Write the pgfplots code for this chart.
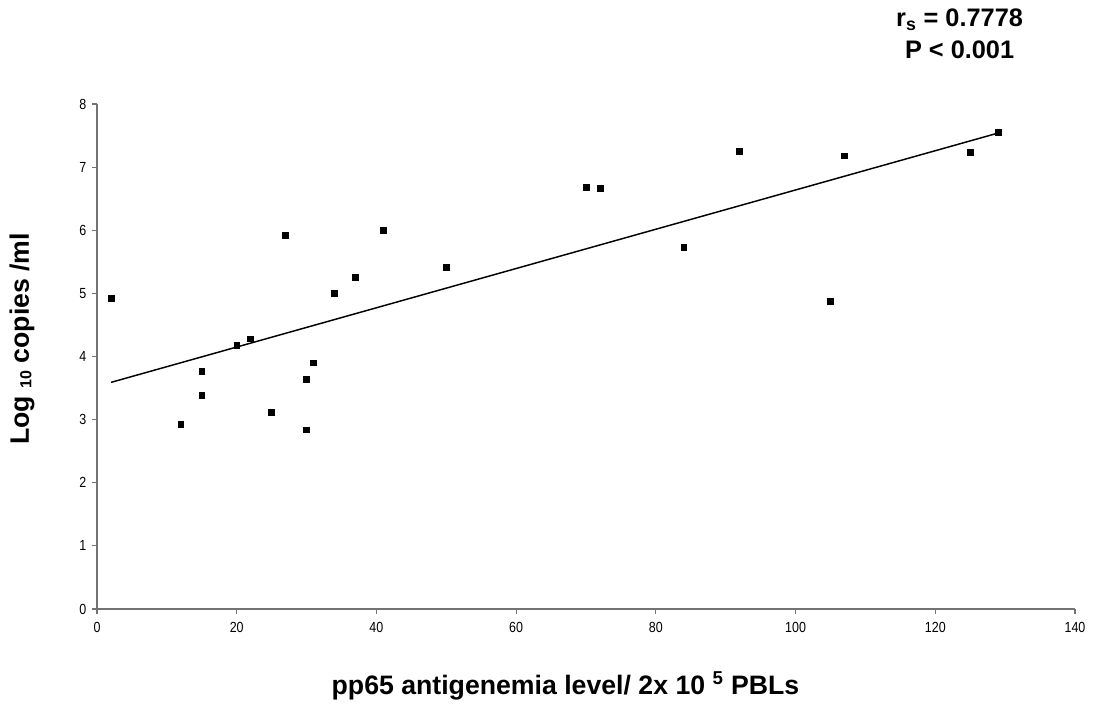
\documentclass[border=0pt]{standalone}
\usepackage{fontspec}
\setmainfont{Liberation Sans}
\usepackage{pgfplots}
\pgfplotsset{compat=1.18}
\begin{document}
\begin{tikzpicture}
\path[use as bounding box] (0,0) rectangle (819.75pt,538.5pt);
\begin{axis}[
  at={(72.75pt,81.75pt)}, anchor=south west,
  scale only axis,
  width=733.5pt, height=378.75pt,
  xmin=0, xmax=140, ymin=0, ymax=8,
  xtick={0,20,...,140}, ytick={0,1,...,8},
  axis lines*=left,
  axis line style={-, draw=black!55, line width=0.8pt},
  tick style={draw=black!55, line width=0.8pt},
  tick align=outside,
  major tick length=3.5pt,
  /pgf/number format/assume math mode=true,
  xticklabel={\scalebox{0.85}[1]{\fontsize{11}{13}\selectfont\pgfmathprintnumber{\tick}}},
  yticklabel={\scalebox{0.85}[1]{\fontsize{11}{13}\selectfont\pgfmathprintnumber{\tick}}},
  xticklabel style={yshift=-3pt},
  yticklabel style={xshift=-1pt},
  title={r\textsubscript{s} = 0.7778\\P < 0.001},
  title style={font=\bfseries\fontsize{19}{23.5}\selectfont, align=center, at={(axis description cs:0.882,1.123)}, anchor=center},
  xlabel={pp65 antigenemia level/ 2x 10 \textsuperscript{5} PBLs},
  xlabel style={font=\bfseries\fontsize{20}{24}\selectfont, at={(axis description cs:0.479,-0.153)}, anchor=center},
  ylabel={Log {\fontsize{12}{13}\selectfont\raisebox{-0.3ex}{10}} copies /ml},
  ylabel style={font=\bfseries\fontsize{20}{24}\selectfont, at={(axis description cs:-0.0767,0.535)}, anchor=center, rotate=0},
  clip=false,
]
\addplot[only marks, mark=square*, mark size=2.2pt, black] table {
x y
2 4.92
12 2.93
15 3.76
15 3.39
20 4.18
22 4.28
25 3.11
27 5.92
30 3.64
30 2.84
31 3.90
34 5.00
37 5.25
41 6.00
50 5.42
70 6.68
72 6.66
84 5.73
92 7.25
105 4.87
107 7.18
125 7.24
129 7.55
};
\addplot[black, line width=1.1pt] coordinates {(2,3.59) (129,7.54)};
\end{axis}
\end{tikzpicture}
\end{document}
